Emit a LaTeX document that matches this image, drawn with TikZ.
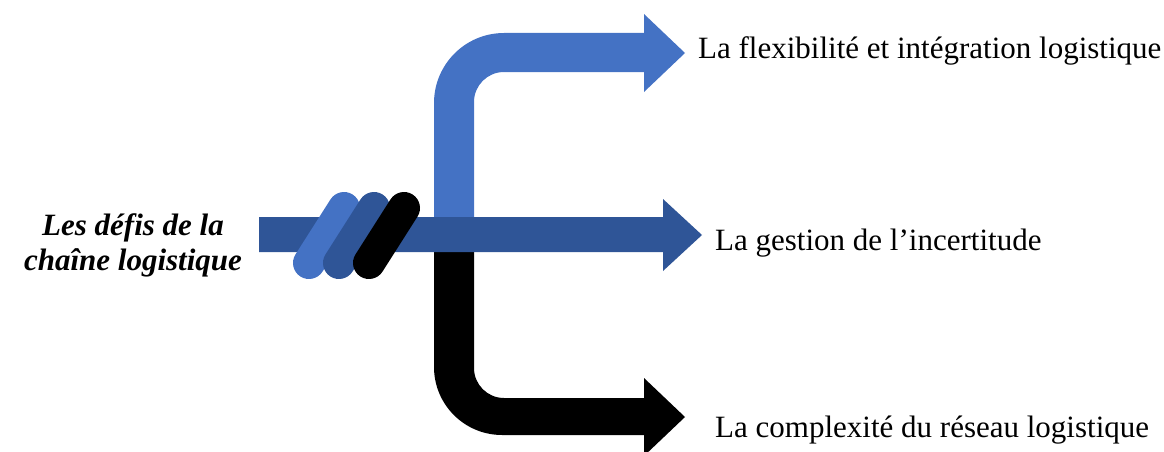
\documentclass[tikz,border=0pt]{standalone}
\usepackage{fontspec}
\setmainfont{Liberation Serif}
\definecolor{lightblue}{HTML}{4472C4}
\definecolor{darkblue}{HTML}{2F5597}
\begin{document}
\begin{tikzpicture}[x=1pt,y=1pt,
  label/.style={anchor=base west,inner sep=0pt,font=\fontsize{31}{35}\selectfont},
  title/.style={anchor=base,inner sep=0pt,font=\fontsize{31}{35}\selectfont\bfseries\itshape},
  pill/.style={line width=32pt,line cap=round}]
\clip (0,0) rectangle (1164,-452);

% upper bent arrow
\fill[lightblue] (434,-235) -- (434,-103) arc[start angle=180,end angle=90,radius=70]
  -- (644,-33) -- (644,-14) -- (685,-53) -- (644,-92) -- (644,-72) -- (504,-72)
  arc[start angle=90,end angle=180,radius=30] -- (474,-235) -- cycle;

% lower bent arrow
\fill[black] (434,-235) -- (434,-367) arc[start angle=180,end angle=270,radius=68]
  -- (644,-435) -- (644,-456) -- (685,-417) -- (644,-378) -- (644,-398) -- (504,-398)
  arc[start angle=270,end angle=180,radius=30] -- (474,-235) -- cycle;

% straight middle arrow
\fill[darkblue] (259,-217) -- (663,-217) -- (663,-199) -- (702,-235) -- (663,-271)
  -- (663,-252) -- (259,-252) -- cycle;

% three strands wound round the arrow
\coordinate (p1a) at (309,-263); \coordinate (p1b) at (344,-208);
\coordinate (p2a) at (339,-263); \coordinate (p2b) at (374,-208);
\coordinate (p3a) at (369,-263); \coordinate (p3b) at (404,-208);
\draw[pill,lightblue] (p1a) -- (p1b);
\draw[pill,darkblue] (p2a) -- (p2b);
\draw[pill,black] (p3a) -- (p3b);

% texts
\node[title] (t1) at (133,-235) {Les défis de la};
\node[title] (t2) at (133,-270) {chaîne logistique};
\node[label] (l1) at (698,-59) {La flexibilité et intégration logistique};
\node[label] (l2) at (715,-250) {La gestion de l’incertitude};
\node[label] (l3) at (715,-437) {La complexité du réseau logistique};
\end{tikzpicture}
\end{document}
